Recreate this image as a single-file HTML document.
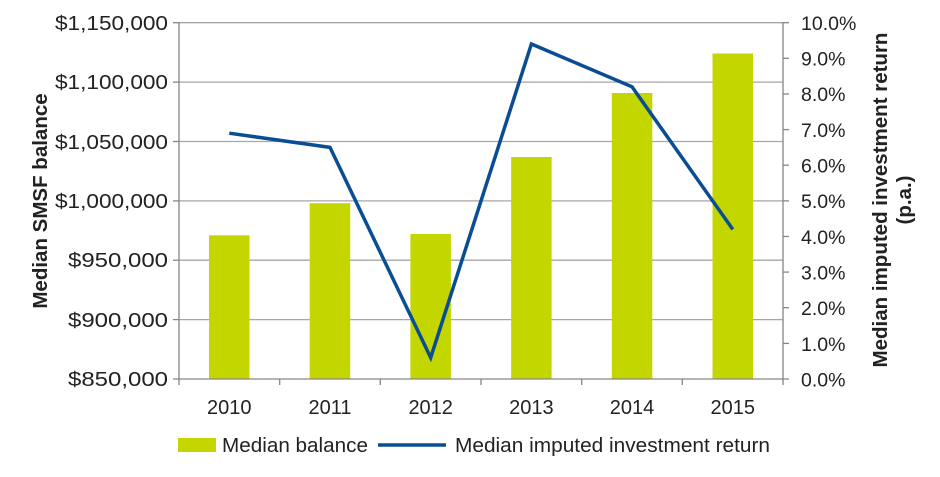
<!DOCTYPE html>
<html><head><style>body{margin:0;background:#fff}svg{display:block}</style></head><body>
<svg width="940" height="477" xmlns="http://www.w3.org/2000/svg" font-family="Liberation Sans, Arial, sans-serif" fill="#222">
<g stroke="#a6a6a6" stroke-width="1.3">
<line x1="179" y1="22.7" x2="783" y2="22.7"/><line x1="179" y1="82.1" x2="783" y2="82.1"/><line x1="179" y1="141.5" x2="783" y2="141.5"/><line x1="179" y1="200.9" x2="783" y2="200.9"/><line x1="179" y1="260.2" x2="783" y2="260.2"/><line x1="179" y1="319.6" x2="783" y2="319.6"/>
</g>
<g fill="#c4d600">
<rect x="209" y="235.3" width="40.5" height="143.7"/>
<rect x="309.7" y="203.2" width="40.5" height="175.8"/>
<rect x="410.4" y="234" width="40.5" height="145"/>
<rect x="511.1" y="157" width="40.5" height="222"/>
<rect x="611.8" y="93" width="40.5" height="286"/>
<rect x="712.5" y="53.5" width="40.5" height="325.5"/>
</g>
<g stroke="#868686" stroke-width="1.3" fill="none">
<line x1="179" y1="22" x2="179" y2="379"/><line x1="783" y1="22" x2="783" y2="379"/><line x1="173" y1="379" x2="789" y2="379"/>
<line x1="173" y1="22.7" x2="179" y2="22.7"/><line x1="173" y1="82.1" x2="179" y2="82.1"/><line x1="173" y1="141.5" x2="179" y2="141.5"/><line x1="173" y1="200.9" x2="179" y2="200.9"/><line x1="173" y1="260.2" x2="179" y2="260.2"/><line x1="173" y1="319.6" x2="179" y2="319.6"/>
<line x1="179" y1="379" x2="179" y2="385"/><line x1="279.7" y1="379" x2="279.7" y2="385"/><line x1="380.3" y1="379" x2="380.3" y2="385"/><line x1="481" y1="379" x2="481" y2="385"/><line x1="581.7" y1="379" x2="581.7" y2="385"/><line x1="682.3" y1="379" x2="682.3" y2="385"/><line x1="783" y1="379" x2="783" y2="385"/>
<line x1="783" y1="22.7" x2="789" y2="22.7"/><line x1="783" y1="58.3" x2="789" y2="58.3"/><line x1="783" y1="94" x2="789" y2="94"/><line x1="783" y1="129.6" x2="789" y2="129.6"/><line x1="783" y1="165.2" x2="789" y2="165.2"/><line x1="783" y1="200.9" x2="789" y2="200.9"/><line x1="783" y1="236.5" x2="789" y2="236.5"/><line x1="783" y1="272.1" x2="789" y2="272.1"/><line x1="783" y1="307.7" x2="789" y2="307.7"/><line x1="783" y1="343.4" x2="789" y2="343.4"/>
</g>
<polyline points="229.3,133.2 330,147.4 430.7,357.6 531.4,44 632,86.8 732.8,229.4" fill="none" stroke="#0a4d94" stroke-width="3.5" stroke-linejoin="miter"/>
<g font-size="20" text-anchor="end">
<text x="168" y="30" textLength="113" lengthAdjust="spacingAndGlyphs">$1,150,000</text><text x="168" y="89" textLength="113" lengthAdjust="spacingAndGlyphs">$1,100,000</text><text x="168" y="149" textLength="113" lengthAdjust="spacingAndGlyphs">$1,050,000</text><text x="168" y="208" textLength="113" lengthAdjust="spacingAndGlyphs">$1,000,000</text><text x="168" y="267" textLength="100" lengthAdjust="spacingAndGlyphs">$950,000</text><text x="168" y="327" textLength="100" lengthAdjust="spacingAndGlyphs">$900,000</text><text x="168" y="386" textLength="100" lengthAdjust="spacingAndGlyphs">$850,000</text>
</g>
<g font-size="19.5" text-anchor="start">
<text x="801" y="30">10.0%</text><text x="801" y="65.5">9.0%</text><text x="801" y="101">8.0%</text><text x="801" y="137">7.0%</text><text x="801" y="172.5">6.0%</text><text x="801" y="208">5.0%</text><text x="801" y="244">4.0%</text><text x="801" y="279.5">3.0%</text><text x="801" y="315">2.0%</text><text x="801" y="351">1.0%</text><text x="801" y="386.5">0.0%</text>
</g>
<g font-size="20" text-anchor="middle">
<text x="229.3" y="414">2010</text><text x="330" y="414">2011</text><text x="430.7" y="414">2012</text><text x="531.4" y="414">2013</text><text x="632" y="414">2014</text><text x="732.8" y="414">2015</text>
</g>
<text transform="translate(47,201) rotate(-90)" font-size="20.5" font-weight="bold" text-anchor="middle">Median SMSF balance</text>
<text transform="translate(887,200) rotate(-90)" font-size="20.5" font-weight="bold" text-anchor="middle">Median imputed investment return</text>
<text transform="translate(911,200) rotate(-90)" font-size="20.5" font-weight="bold" text-anchor="middle">(p.a.)</text>
<rect x="178" y="438" width="38" height="14" fill="#c4d600"/>
<text x="222" y="452" font-size="20" textLength="146" lengthAdjust="spacingAndGlyphs">Median balance</text>
<line x1="378" y1="445" x2="446" y2="445" stroke="#0a4d94" stroke-width="3.5"/>
<text x="455" y="452" font-size="20" textLength="315" lengthAdjust="spacingAndGlyphs">Median imputed investment return</text>
</svg>
</body></html>
